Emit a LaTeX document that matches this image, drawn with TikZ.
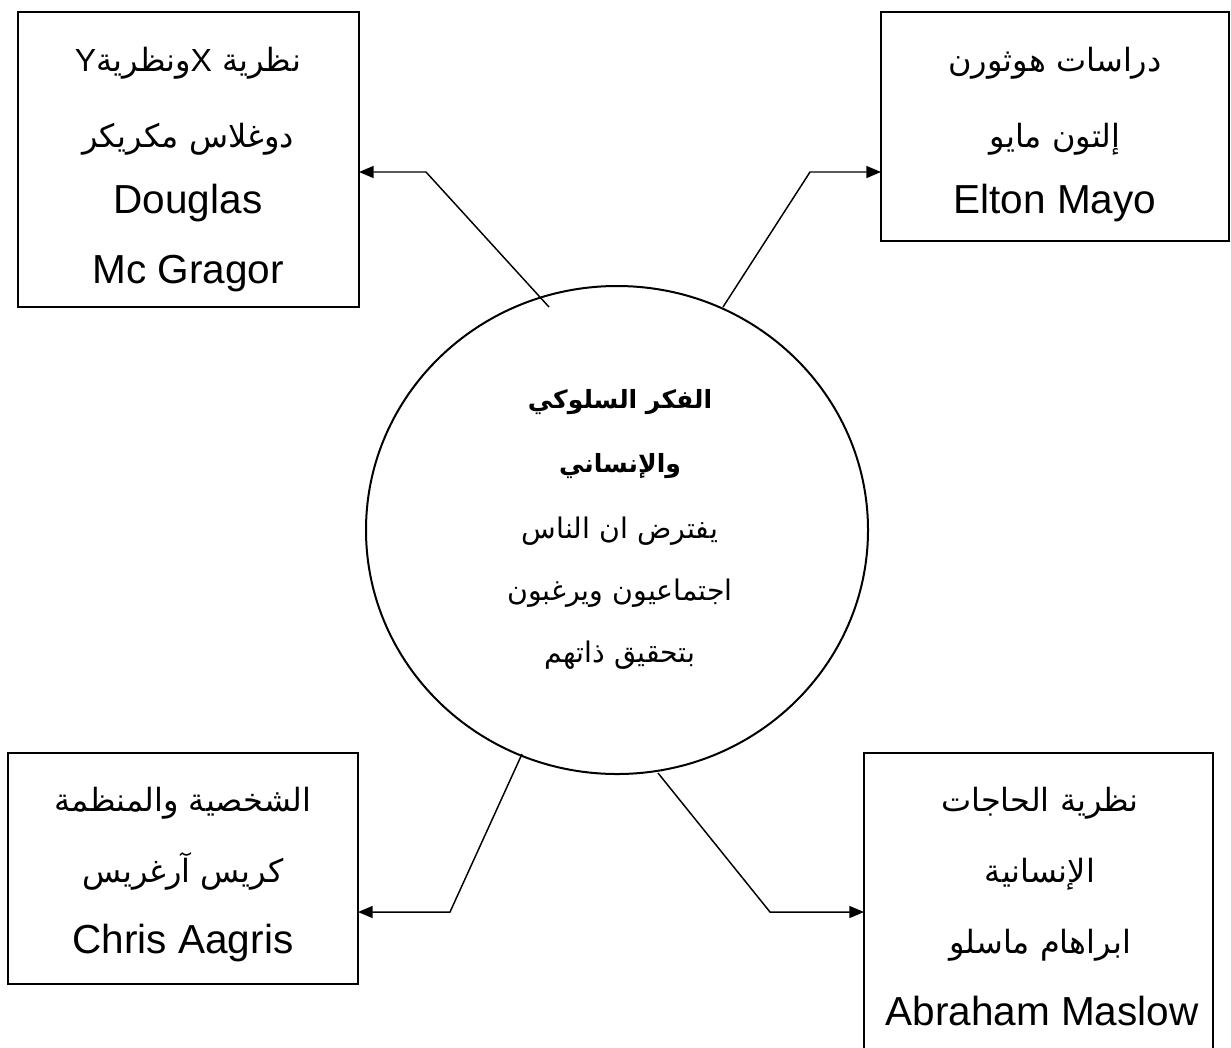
\documentclass[tikz,border=0pt]{standalone}
\usepackage{fontspec}
\setmainfont{Liberation Sans}
\newfontfamily\arabicfont[Script=Arabic]{DejaVu Sans}
\TeXXeTstate=1
\usetikzlibrary{arrows.meta,shapes.geometric}
\newcommand{\AR}[1]{\beginR #1\endR}
\begin{document}
\begin{tikzpicture}[x=0.75pt,y=-0.75pt,
  box/.style={draw, line width=1.5pt, rectangle, inner sep=0pt, outer sep=0pt, anchor=north west},
  arr/.style={line width=1.1pt, -{Triangle[length=11pt,width=9pt]}},
  lat/.style={anchor=base, inner sep=0pt, font=\fontsize{30.4}{36}\selectfont},
  arb/.style={anchor=base, inner sep=0pt, font=\fontsize{24}{30}\selectfont\arabicfont},
  arc/.style={anchor=base, inner sep=0pt, font=\fontsize{21.3}{27}\selectfont\arabicfont},
  arbb/.style={anchor=base, inner sep=0pt, font=\fontsize{18.8}{24}\selectfont\arabicfont\bfseries},
  ]
\clip (0,0) rectangle (1231,1047);
\fill[white] (0,0) rectangle (1231,1047);

% boxes
\node[box, minimum width={341*0.75pt}, minimum height={295*0.75pt}] (tl) at (18,12) {};
\node[box, minimum width={348*0.75pt}, minimum height={229*0.75pt}] (tr) at (881,12) {};
\node[box, minimum width={350*0.75pt}, minimum height={231*0.75pt}] (bl) at (8,753) {};
\node[box, minimum width={349*0.75pt}, minimum height={330*0.75pt}] (br) at (864,753) {};

% central circle
\node[draw, ellipse, line width=1.5pt, inner sep=0pt, outer sep=0pt,
      minimum width={502*0.75pt}, minimum height={488*0.75pt}] (circ) at (617,530) {};

% texts top-left
\node[arb] (tla) at (188,71) {\AR{نظرية {\rmfamily X}ونظرية{\rmfamily Y}}};
\node[arb] (tlb) at (188,147) {\AR{دوغلاس مكريكر}};
\node[lat] (tlc) at (188,213) {Douglas};
\node[lat] (tld) at (188,283) {Mc Gragor};

% texts top-right
\node[arb] (tra) at (1055,71) {\AR{دراسات هوثورن}};
\node[arb] (trb) at (1055,147) {\AR{إلتون مايو}};
\node[lat] (trc) at (1055,213) {Elton Mayo};

% texts bottom-left
\node[arb] (bla) at (183,811) {\AR{الشخصية والمنظمة}};
\node[arb] (blb) at (183,882) {\AR{كريس آرغريس}};
\node[lat] (blc) at (183,953) {Chris Aagris};

% texts bottom-right
\node[arb] (bra) at (1040,811) {\AR{نظرية الحاجات}};
\node[arb] (brb) at (1040,882) {\AR{الإنسانية}};
\node[arb] (brc) at (1040,953) {\AR{ابراهام ماسلو}};
\node[lat] (brd) at (1042,1025) {Abraham Maslow};

% circle texts
\node[arbb] (ca) at (620,408) {\AR{الفكر السلوكي}};
\node[arbb] (cb) at (620,472) {\AR{والإنساني}};
\node[arc] (cc) at (620,538) {\AR{يفترض ان الناس}};
\node[arc] (cd) at (620,600) {\AR{اجتماعيون ويرغبون}};
\node[arc] (ce) at (620,662) {\AR{بتحقيق ذاتهم}};

% connector points
\coordinate (s1) at (549,307);
\coordinate (k1) at (426,172);
\coordinate (s2) at (723,307);
\coordinate (k2) at (810,172);
\coordinate (s3) at (522,754);
\coordinate (k3) at (450,912);
\coordinate (s4) at (658,773);
\coordinate (k4) at (770,912);

\draw[arr] (s1) -- (k1) -- (k1 -| tl.east);
\draw[arr] (s2) -- (k2) -- (k2 -| tr.west);
\draw[arr] (s3) -- (k3) -- (k3 -| bl.east);
\draw[arr] (s4) -- (k4) -- (k4 -| br.west);
\end{tikzpicture}
\end{document}
